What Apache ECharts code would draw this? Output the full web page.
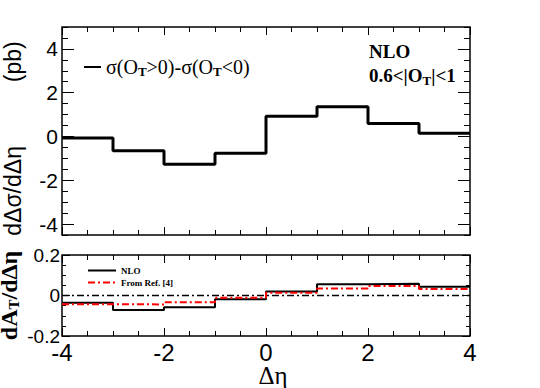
<!DOCTYPE html>
<html lang="en">
<head>
<meta charset="UTF-8">
<title>dA_T/dΔη</title>
<script src="https://cdn.jsdelivr.net/npm/echarts@6/dist/echarts.min.js"></script>
<style>
    html, body { margin: 0; padding: 0; background: #fff; }
    #chart { width: 540px; height: 388px; }
</style>
</head>
<body>
<div id="chart"></div>
<script>
// bin edges in Δη
const binEdges = [-4, -3, -2, -1, 0, 1, 2, 3, 4];
// upper panel: σ(O_T>0) - σ(O_T<0) per bin (pb)
const sigmaDiff = [-0.07, -0.65, -1.27, -0.77, 0.92, 1.36, 0.59, 0.15];
// lower panel: asymmetry per bin
const asymNLO = [-0.036, -0.071, -0.058, -0.019, 0.020, 0.055, 0.058, 0.043];
const asymRef = [-0.043, -0.044, -0.033, -0.011, 0.014, 0.035, 0.047, 0.032];
// tick labels
const xTicks = [-4, -2, 0, 2, 4];
const topYTicks = [-4, -2, 0, 2, 4];
const bottomYTicks = [-0.2, 0, 0.2];

const SANS = 'Liberation Sans, Arial, sans-serif';
const SERIF = 'Liberation Serif, Times New Roman, serif';

// histogram outline: one point per left edge, plus the last right edge
function histPoints(vals) {
    let pts = vals.map((v, i) => [binEdges[i], v]);
    pts.push([binEdges[binEdges.length - 1], vals[vals.length - 1]]);
    return pts;
}

function xAx(grid, pos, showLabel) {
    return {
        type: 'value', gridIndex: grid, position: pos,
        min: binEdges[0], max: binEdges[binEdges.length - 1], interval: 2,
        axisLine: {show: false, onZero: false},
        axisTick: {inside: true, length: 8, lineStyle: {color: '#000'}},
        minorTick: {show: true, splitNumber: 4, length: 5, lineStyle: {color: '#000'}},
        splitLine: {show: false},
        axisLabel: {show: showLabel, fontSize: 24, lineHeight: 18, fontFamily: SANS, color: '#000', margin: 7,
            customValues: xTicks}
    };
}

function topY(pos, major, showLabel) {
    let ax = {
        type: 'value', gridIndex: 0, position: pos, min: -4.5, max: 5,
        axisLine: {show: false, onZero: false}, splitLine: {show: false},
        axisLabel: {show: false}
    };
    if (major) {
        ax.axisTick = {inside: true, length: 12, customValues: topYTicks, lineStyle: {color: '#000'}};
        ax.axisLabel = {show: showLabel, customValues: topYTicks, fontSize: 21, fontFamily: SANS,
            color: '#000', margin: 4};
    } else {
        ax.interval = 0.5;
        ax.axisTick = {inside: true, length: 6, lineStyle: {color: '#000'}};
    }
    return ax;
}

function botY(pos, showLabel) {
    return {
        type: 'value', gridIndex: 1, position: pos, min: -0.2, max: 0.2, interval: 0.2,
        axisLine: {show: false, onZero: false}, splitLine: {show: false},
        axisTick: {inside: true, length: 8, lineStyle: {color: '#000'}},
        minorTick: {show: true, splitNumber: 4, length: 4, lineStyle: {color: '#000'}},
        axisLabel: {show: showLabel, fontSize: 19, lineHeight: 13, fontFamily: SANS, color: '#000', margin: 2,
            customValues: bottomYTicks}
    };
}

let xAxes = [xAx(0, 'bottom', false), xAx(0, 'top', false), xAx(1, 'bottom', true), xAx(1, 'top', false)];
xAxes[2].name = 'Δη';
xAxes[2].nameLocation = 'middle';
xAxes[2].nameMoveOverlap = false;
xAxes[2].nameGap = 28;
xAxes[2].nameTextStyle = {fontSize: 25, lineHeight: 22, fontFamily: SERIF, color: '#000', padding: [0, 0, 0, 14]};

let yAxes = [topY('left', true, true), topY('left', false), topY('right', true, false), topY('right', false),
    botY('left', true), botY('right', false)];
yAxes[0].name = 'dΔσ/dΔη          (pb)';
yAxes[0].nameLocation = 'middle';
yAxes[0].nameMoveOverlap = false;
yAxes[0].nameGap = 38;
yAxes[0].nameTextStyle = {fontSize: 23, fontFamily: SANS, color: '#000', padding: [0, 15, 0, 0]};
yAxes[4].name = 'dA{s|T}/dΔη';
yAxes[4].nameLocation = 'middle';
yAxes[4].nameMoveOverlap = false;
yAxes[4].nameGap = 41;
yAxes[4].nameTextStyle = {fontSize: 24, fontWeight: 'bold', fontFamily: SERIF, color: '#000',
    rich: {s: {fontSize: 15, fontWeight: 'bold', fontFamily: SERIF, color: '#000', padding: [10, 0, 0, 0]}}};

const topName = 'σ(O_T>0)-σ(O_T<0)';
const noMarker = {color: 'rgba(0,0,0,0)', borderColor: 'rgba(0,0,0,0)', borderWidth: 0};

let chart = echarts.init(document.getElementById('chart'), null, {renderer: 'svg'});
chart.setOption({
    animation: false,
    backgroundColor: '#fff',
    grid: [
        {left: 62, top: 27, width: 408, height: 208, show: true, borderColor: '#000', borderWidth: 1.5,
            outerBoundsMode: 'none'},
        {left: 62, top: 255, width: 408, height: 81, show: true, borderColor: '#000', borderWidth: 1.5,
            outerBoundsMode: 'none'}
    ],
    xAxis: xAxes,
    yAxis: yAxes,
    legend: [
        {
            data: [topName], left: 78, top: 52, itemWidth: 17, itemHeight: 12, itemGap: 4,
            itemStyle: noMarker,
            formatter: () => '{m|σ(O}{s|T}{m|>0)-σ(O}{s|T}{m|<0)}',
            textStyle: {
                color: '#000',
                rich: {
                    m: {fontSize: 20, fontFamily: SERIF, color: '#000'},
                    s: {fontSize: 13, fontFamily: SERIF, fontWeight: 'bold', color: '#000', padding: [9, 0, 0, 0]}
                }
            }
        },
        {
            data: ['NLO', 'From Ref. [4]'], orient: 'vertical', left: 82, top: 261,
            itemWidth: 28, itemHeight: 9, itemGap: 3, itemStyle: noMarker,
            textStyle: {fontSize: 9, fontWeight: 'bold', fontFamily: SERIF, color: '#000'}
        }
    ],
    graphic: [
        {type: 'text', left: 369, top: 42, style: {text: 'NLO', fontSize: 19, fontWeight: 'bold',
            fontFamily: SERIF, fill: '#000'}},
        {type: 'text', left: 369, top: 66, style: {text: '{m|0.6<|O}{s|T}{m||<1}', fill: '#000',
            rich: {
                m: {fontSize: 19, fontWeight: 'bold', fontFamily: SERIF, fill: '#000'},
                s: {fontSize: 13, fontWeight: 'bold', fontFamily: SERIF, fill: '#000', padding: [9, 0, 0, 0]}
            }}}
    ],
    series: [
        {
            name: topName, type: 'line', step: 'end', xAxisIndex: 0, yAxisIndex: 0,
            data: histPoints(sigmaDiff), symbol: 'none', color: '#000',
            lineStyle: {color: '#000', width: 3}
        },
        {
            name: 'zero', type: 'line', xAxisIndex: 2, yAxisIndex: 4,
            data: [[binEdges[0], 0], [binEdges[binEdges.length - 1], 0]], symbol: 'none', color: '#000',
            lineStyle: {color: '#000', width: 1.5, type: [7, 3, 2, 3]}
        },
        {
            name: 'NLO', type: 'line', step: 'end', xAxisIndex: 2, yAxisIndex: 4,
            data: histPoints(asymNLO), symbol: 'none', color: '#000',
            lineStyle: {color: '#000', width: 2}
        },
        {
            name: 'From Ref. [4]', type: 'line', step: 'end', xAxisIndex: 2, yAxisIndex: 4,
            data: histPoints(asymRef), symbol: 'none', color: '#ff0000',
            lineStyle: {color: '#ff0000', width: 2, type: [7, 3, 2, 3]}
        }
    ]
});
</script>
</body>
</html>
